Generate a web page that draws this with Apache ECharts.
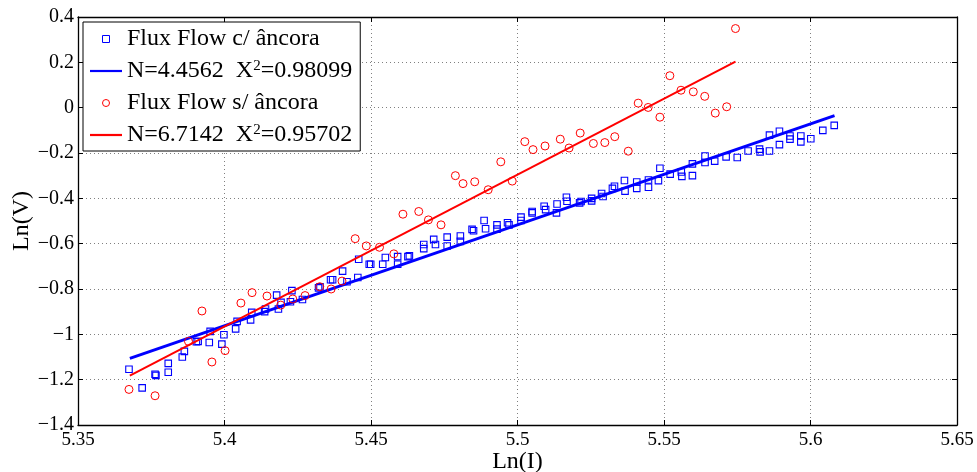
<!DOCTYPE html>
<html>
<head>
<meta charset="utf-8">
<script src="https://cdn.jsdelivr.net/npm/echarts@6/dist/echarts.min.js"></script>
<style>html,body{margin:0;padding:0;background:#fff;}#c{width:977px;height:472px;}</style>
</head>
<body>
<div id="c"></div>
<script>
// Tick settings
const xTicks = { min: 5.35, max: 5.65, step: 0.05 };
const yTicks = { min: -1.4, max: 0.4, step: 0.2 };

// Legend labels
const seriesNames = ['Flux Flow c/ âncora', 'N=4.4562  X^2=0.98099', 'Flux Flow s/ âncora', 'N=6.7142  X^2=0.95702'];
const xName = 'Ln(I)';
const yName = 'Ln(V)';

// Blue squares (com âncora)
const blueX = [5.3674,5.3719,5.3763,5.3766,5.3808,5.3808,5.3856,5.3863,5.3904,5.3910,5.3948,5.3951,5.3991,5.3998,5.4038,5.4043,5.4089,5.4093,5.4137,5.4140,5.4178,5.4184,5.4193,5.4225,5.4230,5.4266,5.4321,5.4326,5.4362,5.4369,5.4403,5.4418,5.4455,5.4458,5.4494,5.4499,5.4540,5.4549,5.4591,5.4591,5.4626,5.4631,5.4680,5.4680,5.4714,5.4720,5.4760,5.4760,5.4805,5.4805,5.4845,5.4850,5.4886,5.4891,5.4930,5.4930,5.4966,5.4971,5.5012,5.5012,5.5050,5.5050,5.5091,5.5096,5.5135,5.5133,5.5167,5.5169,5.5212,5.5217,5.5253,5.5253,5.5287,5.5292,5.5324,5.5331,5.5365,5.5367,5.5407,5.5407,5.5447,5.5447,5.5481,5.5486,5.5521,5.5559,5.5561,5.5597,5.5597,5.5640,5.5640,5.5673,5.5712,5.5750,5.5787,5.5826,5.5828,5.5860,5.5860,5.5894,5.5894,5.5930,5.5930,5.5967,5.5967,5.6001,5.6042,5.6081];
const blueY = [-1.154,-1.236,-1.176,-1.181,-1.128,-1.167,-1.100,-1.075,-1.033,-1.031,-1.036,-0.987,-1.043,-1.002,-0.976,-0.943,-0.936,-0.903,-0.900,-0.888,-0.827,-0.888,-0.859,-0.856,-0.807,-0.846,-0.795,-0.790,-0.759,-0.759,-0.721,-0.768,-0.749,-0.669,-0.691,-0.691,-0.691,-0.661,-0.691,-0.657,-0.657,-0.654,-0.604,-0.622,-0.581,-0.604,-0.571,-0.610,-0.566,-0.590,-0.537,-0.543,-0.498,-0.534,-0.517,-0.536,-0.508,-0.517,-0.483,-0.498,-0.458,-0.464,-0.435,-0.450,-0.425,-0.464,-0.395,-0.413,-0.420,-0.414,-0.400,-0.411,-0.379,-0.392,-0.356,-0.347,-0.321,-0.368,-0.328,-0.356,-0.319,-0.351,-0.322,-0.267,-0.293,-0.284,-0.303,-0.248,-0.300,-0.213,-0.242,-0.236,-0.217,-0.220,-0.191,-0.183,-0.195,-0.191,-0.121,-0.104,-0.163,-0.125,-0.139,-0.125,-0.151,-0.137,-0.100,-0.078];

// Red circles (sem âncora)
const redX = [5.3674,5.3763,5.3877,5.3923,5.3957,5.4002,5.4056,5.4094,5.4145,5.4192,5.4233,5.4275,5.4325,5.4364,5.4401,5.4446,5.4484,5.4529,5.4578,5.4609,5.4663,5.4696,5.4739,5.4788,5.4814,5.4854,5.4900,5.4943,5.4982,5.5025,5.5053,5.5094,5.5146,5.5176,5.5214,5.5259,5.5298,5.5332,5.5378,5.5412,5.5446,5.5486,5.5520,5.5558,5.5600,5.5639,5.5675,5.5714,5.5744];
const redY = [-1.243,-1.271,-1.031,-0.897,-1.122,-1.072,-0.862,-0.816,-0.831,-0.871,-0.844,-0.829,-0.790,-0.800,-0.765,-0.578,-0.610,-0.616,-0.645,-0.470,-0.458,-0.495,-0.517,-0.300,-0.335,-0.327,-0.362,-0.239,-0.324,-0.150,-0.185,-0.169,-0.139,-0.178,-0.112,-0.158,-0.154,-0.128,-0.192,0.020,0.001,-0.042,0.141,0.077,0.070,0.050,-0.024,0.004,0.349];

// Fit lines (end points)
const blueFitX = [5.3677, 5.6082];
const blueFitY = [-1.106, -0.035];
const redFitX = [5.3677, 5.5744];
const redFitY = [-1.182, 0.203];

const zip = (a, b) => a.map((v, i) => [v, b[i]]);
const FONT = 'Liberation Serif';
const BLUE = '#0000ff', RED = '#ff0000';

const chart = echarts.init(document.getElementById('c'), null, { renderer: 'canvas' });

const gridLine = { show: true, lineStyle: { color: '#808080', type: [1, 3], width: 1 } };
const axisLine = { show: true, onZero: false, lineStyle: { color: '#000', width: 1.3 } };
const tick = { show: true, inside: true, length: 5, lineStyle: { color: '#000', width: 1 } };

function fmt(v) { return String(parseFloat(v.toFixed(2))).replace('-', '\u2212'); }

chart.setOption({
  animation: false,
  backgroundColor: '#fff',
  grid: { left: 78, right: 20, top: 17, bottom: 47, containLabel: false, outerBoundsMode: 'none' },
  xAxis: [
    { type: 'value', min: xTicks.min, max: xTicks.max, interval: xTicks.step, position: 'bottom',
      name: xName, nameLocation: 'middle', nameGap: 25, nameMoveOverlap: false,
      nameTextStyle: { fontFamily: FONT, fontSize: 24, color: '#000' },
      axisLine: axisLine, axisTick: tick, splitLine: gridLine,
      axisLabel: { fontFamily: FONT, fontSize: 19, color: '#000', margin: 6, formatter: fmt } },
    { type: 'value', min: xTicks.min, max: xTicks.max, interval: xTicks.step, position: 'top',
      axisLine: axisLine, axisTick: tick, splitLine: { show: false }, axisLabel: { show: false } }
  ],
  yAxis: [
    { type: 'value', min: yTicks.min, max: yTicks.max, interval: yTicks.step, position: 'left',
      name: yName, nameLocation: 'middle', nameGap: 44, nameRotate: 90, nameMoveOverlap: false,
      nameTextStyle: { fontFamily: FONT, fontSize: 24, color: '#000' },
      axisLine: axisLine, axisTick: tick, splitLine: gridLine,
      axisLabel: { fontFamily: FONT, fontSize: 20, color: '#000', margin: 4, formatter: fmt } },
    { type: 'value', min: yTicks.min, max: yTicks.max, interval: yTicks.step, position: 'right',
      axisLine: axisLine, axisTick: tick, splitLine: { show: false }, axisLabel: { show: false } }
  ],
  legend: {
    orient: 'vertical', left: 83, top: 22,
    padding: [5, 8, 4, 7], itemGap: 8, itemWidth: 32, itemHeight: 7,
    backgroundColor: '#fff', borderColor: '#000', borderWidth: 1, borderRadius: 0,
    symbolKeepAspect: true,
    textStyle: {
      fontFamily: FONT, fontSize: 24, color: '#000',
      rich: {
        n: { fontFamily: FONT, fontSize: 24, color: '#000', lineHeight: 24 },
        sup: { fontFamily: FONT, fontSize: 15, color: '#000', lineHeight: 14, verticalAlign: 'top' }
      }
    },
    formatter: function (name) {
      if (name.indexOf('^2') >= 0) {
        const p = name.split('^2');
        return '{n|' + p[0] + '}{sup|2}{n|' + p[1] + '}';
      }
      return '{n|' + name + '}';
    },
    data: [
      { name: seriesNames[0], icon: 'path://M0,0H10V10H0Z', itemStyle: { color: 'transparent', borderColor: BLUE, borderWidth: 1 } },
      { name: seriesNames[1], icon: 'path://M0,0H32V2.2H0Z', itemStyle: { color: BLUE, borderWidth: 0 } },
      { name: seriesNames[2], icon: 'circle', itemStyle: { color: 'transparent', borderColor: RED, borderWidth: 1 } },
      { name: seriesNames[3], icon: 'path://M0,0H32V2.2H0Z', itemStyle: { color: RED, borderWidth: 0 } }
    ]
  },
  series: [
    { name: seriesNames[0], type: 'scatter', data: zip(blueX, blueY), symbol: 'rect', symbolSize: 6.5,
      xAxisIndex: 0, yAxisIndex: 0,
      itemStyle: { color: 'transparent', borderColor: BLUE, borderWidth: 1.1, opacity: 1 }, z: 2 },
    { name: seriesNames[1], type: 'line', data: zip(blueFitX, blueFitY), symbol: 'none', showSymbol: false,
      xAxisIndex: 0, yAxisIndex: 0,
      lineStyle: { color: BLUE, width: 3 }, itemStyle: { color: BLUE }, z: 3 },
    { name: seriesNames[2], type: 'scatter', data: zip(redX, redY), symbol: 'circle', symbolSize: 8,
      xAxisIndex: 0, yAxisIndex: 0,
      itemStyle: { color: 'transparent', borderColor: RED, borderWidth: 1, opacity: 1 }, z: 4 },
    { name: seriesNames[3], type: 'line', data: zip(redFitX, redFitY), symbol: 'none', showSymbol: false,
      xAxisIndex: 0, yAxisIndex: 0,
      lineStyle: { color: RED, width: 2 }, itemStyle: { color: RED }, z: 5 }
  ]
});
</script>
</body>
</html>
